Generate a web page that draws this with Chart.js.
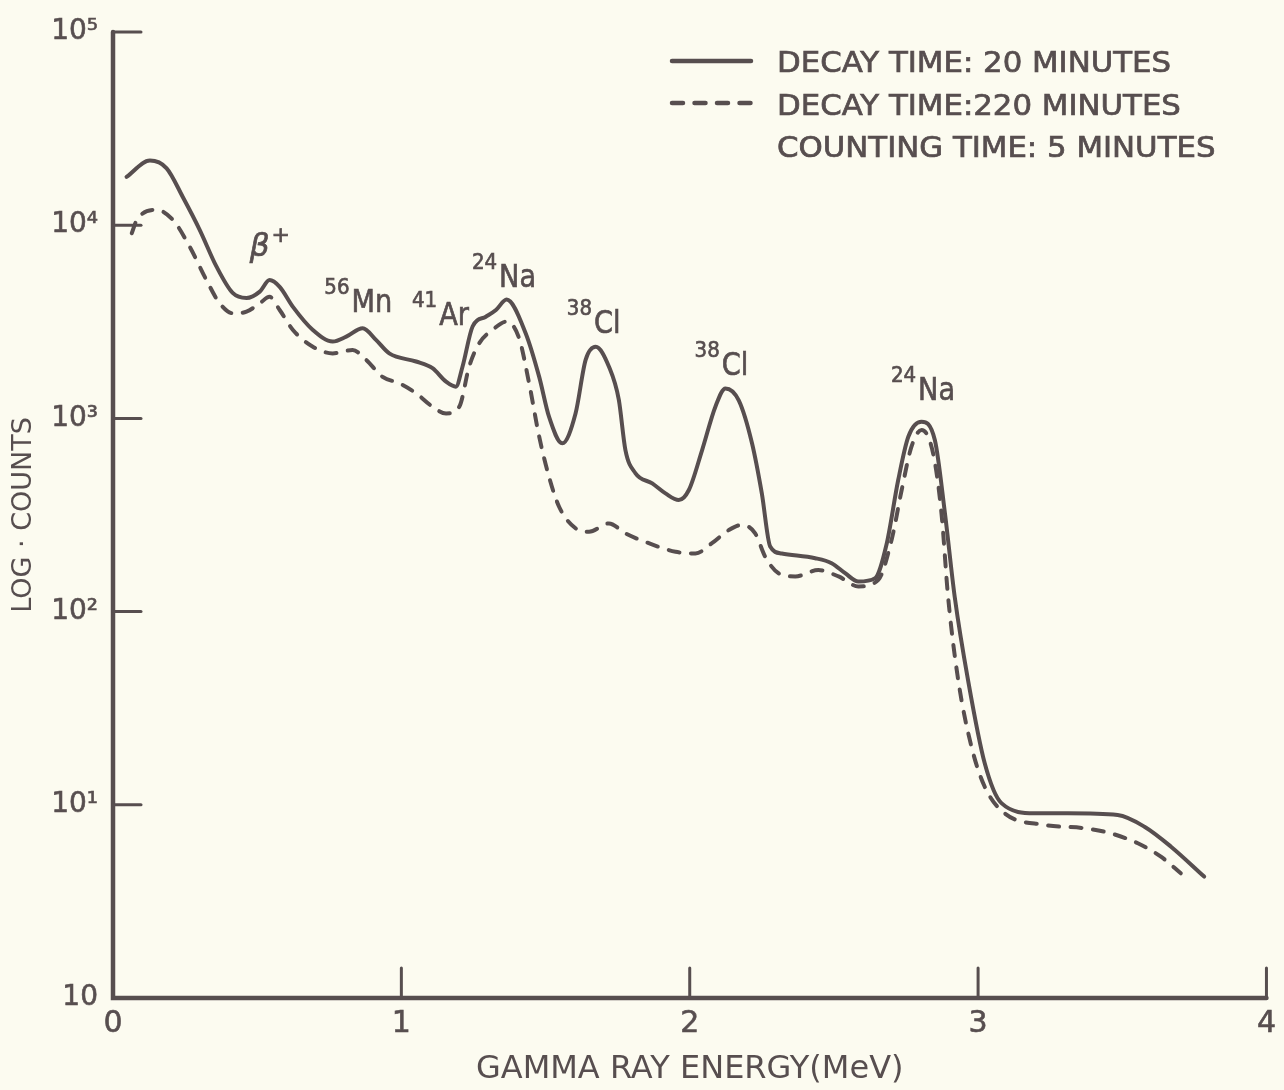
<!DOCTYPE html>
<html>
<head>
<meta charset="utf-8">
<title>Gamma ray spectrum</title>
<script src="https://cdn.jsdelivr.net/npm/chart.js@4.4.1/dist/chart.umd.min.js"></script>
<style>
  html, body { margin: 0; padding: 0; background: #fcfbf0; }
  #wrap { width: 1284px; height: 1090px; }
</style>
</head>
<body>
<div id="wrap"><canvas id="spectrum" width="1284" height="1090"></canvas></div>
<script>
const INK = '#574e4f';
const PAPER = '#fcfbf0';

// decay time 20 minutes (solid curve)
const energy20 = [0.047, 0.128, 0.186, 0.242, 0.301, 0.359, 0.415, 0.463, 0.509, 0.543,
    0.578, 0.624, 0.693, 0.762, 0.809, 0.866, 0.912, 0.958, 1.051, 1.108,
    1.155, 1.189, 1.212, 1.247, 1.293, 1.328, 1.365, 1.431, 1.478, 1.512,
    1.558, 1.604, 1.639, 1.674, 1.720, 1.754, 1.777, 1.812, 1.870, 1.916,
    1.962, 1.997, 2.043, 2.089, 2.124, 2.170, 2.216, 2.250, 2.279, 2.319,
    2.435, 2.492, 2.539, 2.585, 2.643, 2.682, 2.723, 2.758, 2.804, 2.850,
    2.885, 2.919, 2.965, 3.023, 3.081, 3.196, 3.311, 3.484, 3.577, 3.669, 3.784];
const counts20 = [17800, 21600, 19700, 14000, 9440, 6100, 4460, 4200, 4530, 5200,
    4800, 3780, 2870, 2500, 2650, 2930, 2550, 2170, 1970, 1820,
    1550, 1460, 1850, 2990, 3360, 3640, 4120, 2760, 1640, 1020,
    743, 1060, 2010, 2350, 1850, 1250, 686, 520, 461, 409,
    378, 426, 686, 1150, 1430, 1240, 743, 409, 217, 200,
    189, 178, 158, 143, 149, 221, 480, 804, 961, 773,
    323, 119, 44.3, 16.4, 10.2, 9.04, 9.04, 8.85, 7.7, 6.07, 4.25];

// decay time 220 minutes (dashed curve)
const energy220 = [0.065, 0.082, 0.151, 0.209, 0.266, 0.324, 0.370, 0.416, 0.463, 0.509,
    0.543, 0.578, 0.624, 0.693, 0.762, 0.831, 0.878, 0.935, 0.993, 1.051,
    1.108, 1.155, 1.201, 1.235, 1.270, 1.316, 1.365, 1.408, 1.443, 1.478,
    1.512, 1.547, 1.604, 1.651, 1.720, 1.777, 1.858, 1.951, 2.020, 2.077,
    2.135, 2.181, 2.227, 2.262, 2.308, 2.366, 2.446, 2.516, 2.585, 2.654,
    2.700, 2.735, 2.769, 2.804, 2.844, 2.873, 2.896, 2.931, 2.977, 3.023,
    3.092, 3.231, 3.369, 3.461, 3.554, 3.634, 3.703];
const counts220 = [9080, 10600, 12000, 10600, 7740, 5200, 3940, 3500, 3570, 3940,
    4260, 3640, 2870, 2350, 2170, 2260, 2010, 1640, 1520, 1350,
    1150, 1060, 1150, 1850, 2450, 2870, 3170, 2610, 1520, 804,
    499, 349, 270, 259, 286, 254, 226, 204, 200, 226,
    264, 281, 254, 192, 158, 152, 164, 152, 135, 146,
    235, 426, 714, 871, 659, 323, 119, 44.3, 20, 12.4,
    9.04, 7.87, 7.56, 7.11, 6.32, 5.39, 4.42];

const xTickValues = [0, 1, 2, 3, 4];
const yTickValues = [1, 10, 100, 1000, 10000, 100000];
const yTickLabels = ['10', '10¹', '10²', '10³', '10⁴', '10⁵'];

const legendLabels = ['DECAY TIME: 20 MINUTES', 'DECAY TIME:220 MINUTES', 'COUNTING TIME: 5 MINUTES'];

// peak labels, anchored at (energy, counts) of the main symbol's left baseline
const peakLabels = [
    { e: 0.474, c: 6930, text: 'β', sup: '+', supAfter: true },
    { e: 0.827, c: 3550, text: 'Mn', sup: '56' },
    { e: 1.131, c: 3040, text: 'Ar', sup: '41' },
    { e: 1.339, c: 4790, text: 'Na', sup: '24' },
    { e: 1.668, c: 2770, text: 'Cl', sup: '38' },
    { e: 2.111, c: 1680, text: 'Cl', sup: '38' },
    { e: 2.792, c: 1245, text: 'Na', sup: '24' }
];

function toPoints(xs, ys) {
    return xs.map((x, i) => ({ x: x, y: ys[i] }));
}

function stretchText(ctx, str, x, y, size, sx, italic) {
    ctx.save();
    ctx.font = (italic ? 'italic ' : '') + size + 'px "DejaVu Sans"';
    ctx.translate(x, y);
    ctx.scale(sx, 1);
    ctx.textAlign = 'left';
    ctx.textBaseline = 'alphabetic';
    ctx.fillStyle = INK;
    ctx.strokeStyle = INK;
    ctx.lineWidth = 0.7;
    ctx.fillText(str, 0, 0);
    ctx.strokeText(str, 0, 0);
    const w = ctx.measureText(str).width * sx;
    ctx.restore();
    return w;
}

function measure(ctx, str, size, sx) {
    ctx.save();
    ctx.font = size + 'px "DejaVu Sans"';
    const w = ctx.measureText(str).width * sx;
    ctx.restore();
    return w;
}

const paperPlugin = {
    id: 'paper',
    beforeDraw(chart) {
        const ctx = chart.ctx;
        ctx.save();
        ctx.fillStyle = PAPER;
        ctx.fillRect(0, 0, chart.width, chart.height);
        ctx.restore();
    }
};

// L-shaped axes with inward ticks, like the hand drawn original
const axesPlugin = {
    id: 'handAxes',
    afterDatasetsDraw(chart) {
        const { ctx, chartArea: a, scales: { x, y } } = chart;
        ctx.save();
        ctx.strokeStyle = INK;
        ctx.lineCap = 'round';
        ctx.lineWidth = 4.5;
        ctx.beginPath();
        ctx.moveTo(a.left, a.top);
        ctx.lineTo(a.left, a.bottom);
        ctx.lineTo(a.right, a.bottom);
        ctx.stroke();

        ctx.lineWidth = 3;
        yTickValues.slice(1).forEach(v => {
            const py = y.getPixelForValue(v);
            ctx.beginPath();
            ctx.moveTo(a.left, py);
            ctx.lineTo(a.left + 28, py);
            ctx.stroke();
        });
        xTickValues.slice(1).forEach(v => {
            const px = x.getPixelForValue(v);
            ctx.beginPath();
            ctx.moveTo(px, a.bottom);
            ctx.lineTo(px, a.bottom - 30);
            ctx.stroke();
        });
        ctx.restore();
    }
};

const notesPlugin = {
    id: 'notes',
    afterDraw(chart) {
        const { ctx, scales: { x, y } } = chart;

        // isotope labels
        peakLabels.forEach(p => {
            const px = x.getPixelForValue(p.e);
            const py = y.getPixelForValue(p.c);
            if (p.supAfter) {
                const w = stretchText(ctx, p.text, px, py, 31, 1, true);
                stretchText(ctx, p.sup, px + w + 2, py - 14, 22, 1, false);
            } else {
                const sw = measure(ctx, p.sup, 22, 0.9);
                stretchText(ctx, p.sup, px - sw - 2, py - 18, 22, 0.9, false);
                stretchText(ctx, p.text, px, py, 32, 0.85, false);
            }
        });

        // legend
        ctx.save();
        ctx.strokeStyle = INK;
        ctx.lineWidth = 4.5;
        ctx.lineCap = 'round';
        ctx.beginPath();
        ctx.moveTo(672, 61);
        ctx.lineTo(751, 61);
        ctx.stroke();
        ctx.setLineDash([11, 11.5]);
        ctx.beginPath();
        ctx.moveTo(672, 103);
        ctx.lineTo(751, 103);
        ctx.stroke();
        ctx.restore();

        stretchText(ctx, legendLabels[0], 777, 72, 28, 1.1, false);
        stretchText(ctx, legendLabels[1], 777, 115, 28, 1.1, false);
        stretchText(ctx, legendLabels[2], 777, 157, 28, 1.1, false);
    }
};

Chart.defaults.font.family = '"DejaVu Sans"';
Chart.defaults.color = INK;

new Chart(document.getElementById('spectrum'), {
    type: 'line',
    data: {
        datasets: [
            {
                label: legendLabels[1],
                data: toPoints(energy220, counts220),
                borderColor: INK,
                borderWidth: 4,
                borderDash: [11, 11.5],
                borderCapStyle: 'round',
                borderJoinStyle: 'round',
                pointRadius: 0,
                fill: false,
                cubicInterpolationMode: 'monotone'
            },
            {
                label: legendLabels[0],
                data: toPoints(energy20, counts20),
                borderColor: INK,
                borderWidth: 4,
                borderCapStyle: 'round',
                borderJoinStyle: 'round',
                pointRadius: 0,
                fill: false,
                cubicInterpolationMode: 'monotone'
            }
        ]
    },
    options: {
        responsive: false,
        animation: false,
        layout: { padding: { top: 32, right: 15, left: 0, bottom: 0 } },
        plugins: {
            legend: { display: false },
            tooltip: { enabled: false }
        },
        scales: {
            x: {
                type: 'linear',
                min: 0,
                max: 4,
                afterBuildTicks: axis => { axis.ticks = xTickValues.map(v => ({ value: v })); },
                afterFit: s => { s.height = 92; },
                grid: { display: false, drawTicks: false },
                border: { display: false },
                ticks: {
                    padding: 8,
                    color: INK,
                    font: { size: 30 },
                    textStrokeColor: INK,
                    textStrokeWidth: 0.6,
                    callback: v => String(v)
                },
                title: {
                    display: true,
                    text: 'GAMMA RAY ENERGY(MeV)',
                    color: INK,
                    font: { size: 32 },
                    padding: { top: 0, bottom: 1 }
                }
            },
            y: {
                type: 'logarithmic',
                min: 1,
                max: 100000,
                afterBuildTicks: axis => { axis.ticks = yTickValues.map(v => ({ value: v })); },
                afterFit: s => { s.width = 113; },
                grid: { display: false, drawTicks: false },
                border: { display: false },
                ticks: {
                    padding: 15,
                    color: INK,
                    font: { size: 28 },
                    textStrokeColor: INK,
                    textStrokeWidth: 0.6,
                    callback: function(value) {
                        const i = yTickValues.indexOf(value);
                        return i >= 0 ? yTickLabels[i] : '';
                    }
                },
                title: {
                    display: true,
                    text: 'LOG · COUNTS',
                    color: INK,
                    font: { size: 27 },
                    padding: { top: 8, bottom: 0 }
                }
            }
        }
    },
    plugins: [paperPlugin, axesPlugin, notesPlugin]
});
</script>
</body>
</html>
